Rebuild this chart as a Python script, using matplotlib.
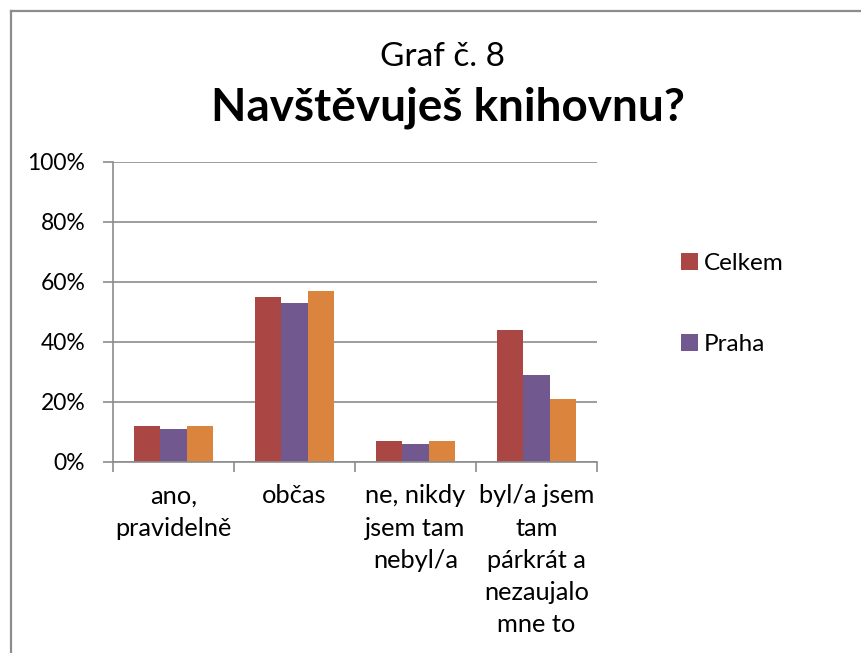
import numpy as np
import matplotlib.pyplot as plt
from matplotlib.patches import Patch
from matplotlib.lines import Line2D

plt.rcParams['font.family'] = ['Lato', 'DejaVu Sans']

# ----------------------------
# Data
# ----------------------------
categories = ["ano,\npravidelně", "občas", "ne, nikdy\njsem tam\nnebyl/a",
              "byl/a jsem\ntam\npárkrát a\nnezaujalo\nmne to"]
celkem = [12, 55, 7, 44]
praha = [11, 53, 6, 29]
ostatni = [12, 57, 7, 21]
series_names = ["Celkem", "Praha", ""]
colors = ["#AA4643", "#71588F", "#DB843D"]

W, H = 862, 653
fig = plt.figure(figsize=(W / 100, H / 100), dpi=100)

# chart frame (cropped at right and bottom)
grey = "#8C8C8C"
fig.add_artist(Line2D([11 / W, 11 / W], [0, 1 - 11 / H], transform=fig.transFigure, color=grey, lw=1.6))
fig.add_artist(Line2D([11 / W, 1], [1 - 11 / H, 1 - 11 / H], transform=fig.transFigure, color=grey, lw=1.6))

# titles
fig.text(443 / W, 1 - 57 / H, "Graf č. 8", ha="center", va="center", fontsize=24)
fig.text(448 / W, 1 - 108 / H, "Navštěvuješ knihovnu?", ha="center", va="center",
         fontsize=33, fontweight="bold")

# axes
ax = fig.add_axes([113 / W, 1 - 462 / H, (597 - 113) / W, (462 - 162) / H])
x = np.arange(len(categories))
w = 0.22
for i, (vals, c) in enumerate(zip([celkem, praha, ostatni], colors)):
    ax.bar(x + (i - 1) * w, vals, width=w, color=c, zorder=2)

ax.set_xlim(-0.5, len(categories) - 0.5)
ax.set_ylim(0, 100)
ax.set_yticks(np.arange(0, 101, 20))
ax.set_yticklabels([f"{v}%" for v in range(0, 101, 20)])
ax.yaxis.grid(True, color=grey, lw=1.2, zorder=0)
ax.set_xticks(x)
ax.set_xticklabels(categories, linespacing=1.49)
ax.set_xticks(np.arange(-0.5, len(categories), 1), minor=True)
ax.tick_params(axis="x", which="major", length=0, pad=16, labelsize=18.3)
ax.tick_params(axis="x", which="minor", length=7, width=1.2, color=grey, direction="out")
ax.tick_params(axis="y", length=7, width=1.2, color=grey, direction="out", pad=13, labelsize=16.5)
for s in ["top", "right"]:
    ax.spines[s].set_visible(False)
for s in ["left", "bottom"]:
    ax.spines[s].set_color(grey)
    ax.spines[s].set_linewidth(1.2)

# legend (only first two series shown)
handles = [Patch(facecolor=colors[0]), Patch(facecolor=colors[1])]
fig.legend(handles, series_names[:2], loc="upper left", bbox_to_anchor=(681 / W, 1 - 253 / H),
           frameon=False, fontsize=17.5, handlelength=0.7, handleheight=0.7,
           handletextpad=0.25, labelspacing=2.48, borderpad=0, borderaxespad=0)

fig.savefig("out.png", dpi=100)
